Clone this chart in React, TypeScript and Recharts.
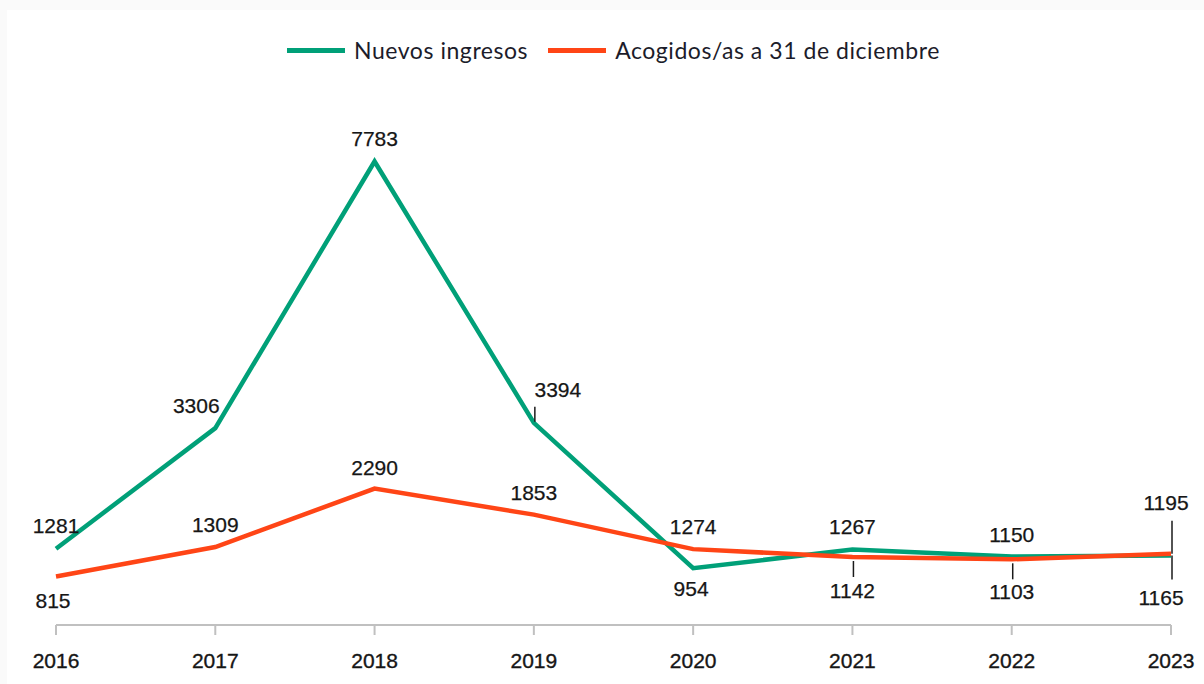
import React from 'react';
import { LineChart, Line, XAxis, YAxis, Legend, LabelList } from 'recharts';

const years = ['2016', '2017', '2018', '2019', '2020', '2021', '2022', '2023'];
const nuevosIngresos = [1281, 3306, 7783, 3394, 954, 1267, 1150, 1165];
const acogidos = [815, 1309, 2290, 1853, 1274, 1142, 1103, 1195];
const seriesNames = ['Nuevos ingresos', 'Acogidos/as a 31 de diciembre'];
const yDomain = [0, 9000];

const GREEN = '#00A078';
const ORANGE = '#FF4516';
const TEXT = '#161616';
const LABEL_FONT = '"Liberation Sans", Arial, sans-serif';

type Place = { dx: number; dy: number; l?: [number, number] };
const greenPlace: Place[] = [
  { dx: 0, dy: -23 },
  { dx: -19, dy: -23 },
  { dx: 0, dy: -23 },
  { dx: 24, dy: -33, l: [-16, -1] },
  { dx: -2, dy: 20 },
  { dx: 0, dy: -23 },
  { dx: 0, dy: -22 },
  { dx: -10, dy: 42, l: [0, 24] },
];
const orangePlace: Place[] = [
  { dx: -3, dy: 24 },
  { dx: 0, dy: -23 },
  { dx: 0, dy: -21 },
  { dx: 0, dy: -22 },
  { dx: 0, dy: -23 },
  { dx: 0, dy: 34, l: [4, 20] },
  { dx: 0, dy: 32, l: [4, 20] },
  { dx: -5, dy: -51, l: [-33, 0] },
];

const data = years.map((y, i) => ({
  year: y,
  nuevos: nuevosIngresos[i],
  acogidos: acogidos[i],
}));

const makeLabel = (places: Place[]) => (props: any) => {
  const { x, y, value, index } = props;
  const p = places[index] || { dx: 0, dy: -22 };
  return (
    <g>
      {p.l && (
        <line x1={x + 1} x2={x + 1} y1={y + p.l[0]} y2={y + p.l[1]} stroke="#1a1a1a" strokeWidth={1.5} />
      )}
      <text
        x={x + p.dx}
        y={y + p.dy}
        textAnchor="middle"
        dominantBaseline="central"
        fontFamily={LABEL_FONT}
        fontSize={21}
        fill={TEXT}
        stroke={TEXT}
        strokeWidth={0.25}
      >
        {value}
      </text>
    </g>
  );
};

const YearTick = (props: any) => {
  const { x, y, payload } = props;
  return (
    <text
      x={x}
      y={y + 25}
      textAnchor="middle"
      dominantBaseline="central"
      fontFamily={LABEL_FONT}
      fontSize={21}
      fill={TEXT}
      stroke={TEXT}
      strokeWidth={0.35}
    >
      {payload.value}
    </text>
  );
};

const LegendContent = () => (
  <div
    style={{
      display: 'flex',
      justifyContent: 'center',
      alignItems: 'center',
      fontFamily: 'Lato, sans-serif',
      fontSize: 23,
      letterSpacing: 0.55,
      color: '#1c1c2a',
    }}
  >
    <span style={{ display: 'inline-block', width: 58, height: 5, background: GREEN, marginRight: 9 }} />
    <span style={{ marginRight: 20 }}>{seriesNames[0]}</span>
    <span style={{ display: 'inline-block', width: 58, height: 5, background: ORANGE, marginRight: 9 }} />
    <span>{seriesNames[1]}</span>
  </div>
);

export default function App() {
  return (
    <div style={{ position: 'fixed', left: 0, top: 0, width: 1204, height: 684, background: '#fafafa' }}>
      <div style={{ position: 'absolute', left: 7, top: 10, width: 1197, height: 674, background: '#ffffff' }}>
        <LineChart width={1197} height={674} data={data} margin={{ top: 79, right: 33, bottom: 19, left: 49 }}>
          <XAxis
            dataKey="year"
            axisLine={{ stroke: '#c0c0c0', strokeWidth: 2 }}
            tickLine={{ stroke: '#c0c0c0', strokeWidth: 2 }}
            tickSize={10}
            tickMargin={0}
            height={40}
            tick={<YearTick />}
            interval={0}
          />
          <YAxis hide domain={yDomain} />
          <Legend
            verticalAlign="middle"
            align="center"
            layout="horizontal"
            content={<LegendContent />}
            wrapperStyle={{ top: 26 }}
          />
          <Line
            type="linear"
            dataKey="nuevos"
            name={seriesNames[0]}
            stroke={GREEN}
            strokeWidth={4.5}
            dot={false}
            activeDot={false}
            isAnimationActive={false}
          >
            <LabelList dataKey="nuevos" content={makeLabel(greenPlace)} />
          </Line>
          <Line
            type="linear"
            dataKey="acogidos"
            name={seriesNames[1]}
            stroke={ORANGE}
            strokeWidth={4.5}
            dot={false}
            activeDot={false}
            isAnimationActive={false}
          >
            <LabelList dataKey="acogidos" content={makeLabel(orangePlace)} />
          </Line>
        </LineChart>
      </div>
    </div>
  );
}
